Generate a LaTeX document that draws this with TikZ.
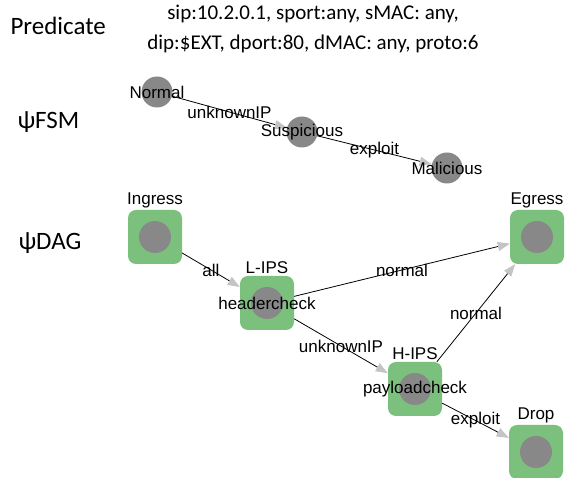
\documentclass[tikz,border=0pt]{standalone}
\usepackage{fontspec}
\setmainfont{Carlito}
\newfontfamily\graphfont{Liberation Sans}
\usetikzlibrary{arrows.meta}

\definecolor{boxgreen}{HTML}{7CC07E}
\definecolor{dotgray}{HTML}{888888}
\definecolor{tipgray}{HTML}{C4C4C4}

\tikzset{
    rowtitle/.style={font=\fontsize{25}{28}\selectfont, anchor=west},
    state/.style={circle, fill=dotgray, minimum size=31pt, inner sep=0pt},
    statename/.style={font=\graphfont\fontsize{17}{19}\selectfont},
    hoptext/.style={font=\graphfont\fontsize{17}{19}\selectfont, inner sep=2pt},
    hop/.style={rectangle, rounded corners=8pt, fill=boxgreen, minimum size=54pt,
        inner sep=0pt, label distance=0pt,
        path picture={\fill[dotgray] (path picture bounding box.center) circle (16pt);}},
    trans/.style={draw=black, line width=0.8pt,
        -{Triangle[color=tipgray, length=12pt, width=9pt]}},
    translabel/.style={midway, inner sep=0pt, font=\graphfont\fontsize{17}{19}\selectfont}
}

\begin{document}
\begin{tikzpicture}[x=1pt, y=-1pt]
    % white background
    \fill[white] (0,0) rectangle (566,478);
    \useasboundingbox (0,0) rectangle (566,478);

    % row titles
    \node[rowtitle] (predtitle) at (7,26) {Predicate};
    \node[rowtitle] (fsmtitle) at (14,122) {ψFSM};
    \node[rowtitle] (dagtitle) at (15,243) {ψDAG};

    % predicate text
    \node[align=center, font=\fontsize{21}{30}\selectfont] (pred) at (313,29)
        {sip:10.2.0.1, sport:any, sMAC: any,\\dip:\$EXT, dport:80, dMAC: any, proto:6};

    % fsm states
    \node[state] (normal) at (157,92) {};
    \node[state] (suspicious) at (302,132) {};
    \node[state] (malicious) at (447,168) {};

    \draw[trans] (normal) -- (suspicious) node[translabel] (t1) {unknownIP};
    \draw[trans] (suspicious) -- (malicious) node[translabel] (t2) {exploit};

    % state names on top of the lines
    \node[statename] (normalname) at (normal) {Normal};
    \node[statename] (suspiciousname) at (suspicious) {Suspicious};
    \node[statename] (maliciousname) at (malicious) {Malicious};

    % dag hops
    \node[hop, label={[hoptext]above:Ingress}] (ingress) at (155,237) {};
    \node[hop, label={[hoptext]above:L-IPS}, label={[hoptext]center:headercheck}] (lips) at (267,303) {};
    \node[hop, label={[hoptext]above:Egress}] (egress) at (537,237) {};
    \node[hop, label={[hoptext]above:H-IPS}, label={[hoptext]center:payloadcheck}] (hips) at (415,389) {};
    \node[hop, label={[hoptext]above:Drop}] (drop) at (536,452) {};

    \draw[trans] (ingress) -- (lips) node[translabel] (e1) {all};
    \draw[trans] (lips) -- (egress) node[translabel] (e2) {normal};
    \draw[trans] (lips) -- (hips) node[translabel] (e3) {unknownIP};
    \draw[trans] (hips) -- (egress) node[translabel] (e4) {normal};
    \draw[trans] (hips) -- (drop) node[translabel] (e5) {exploit};

\end{tikzpicture}
\end{document}
